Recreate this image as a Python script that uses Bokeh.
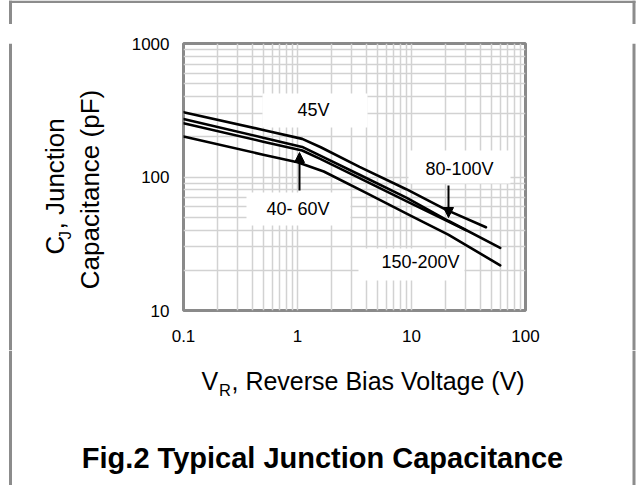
import math
from bokeh.plotting import figure
from bokeh.layouts import column, row
from bokeh.models import Range1d, FixedTicker, Label, BoxAnnotation, Arrow, NormalHead, Span
from bokeh.embed import file_html
from bokeh.resources import INLINE

# ---- data ----
vr_45 = [0.1, 0.5, 1.1, 1.6, 3.5, 9, 20, 45]
cj_45 = [306, 225, 193, 167, 119, 81, 57, 42]

vr_40_60 = [0.1, 0.5, 1.1, 1.6, 3.5, 9, 21, 60]
cj_40_60 = [272, 197, 168, 144, 104, 70, 47, 29.5]

vr_80_100 = [0.1, 0.5, 1.1, 1.6, 3.5, 9, 30]
cj_80_100 = [253, 184, 158, 136, 98, 66, 40]

vr_150_200 = [0.1, 0.5, 1.0, 1.7, 4, 10, 21, 60]
cj_150_200 = [201, 147, 129, 110, 76, 51, 37, 21.8]

x_ticks = [0.1, 1, 10, 100]
x_tick_labels = ["0.1", "1", "10", "100"]
y_ticks = [10, 100, 1000]
y_tick_labels = ["10", "100", "1000"]

FONT = "Liberation Sans"
BORDER = "#8c8c8c"

# ---- page geometry (pixels) ----
PAGE_W = 638
TOP_H = 24
MID_H = 326
BOT_H = 135
YLAB_W = 110
MAIN_W = 435
RIGHT_W = PAGE_W - YLAB_W - MAIN_W
FR_L, FR_T, FR_W, FR_H = 183, 43, 342, 267

X0, X1 = 0.1, 100
Y0, Y1 = 10, 1000


def dx(px):
    return 10 ** (math.log10(X0) + (px - FR_L) / FR_W * (math.log10(X1) - math.log10(X0)))


def dy(py):
    return 10 ** (math.log10(Y1) - (py - FR_T) / FR_H * (math.log10(Y1) - math.log10(Y0)))


def canvas(w, h, x0, y0):
    """A plain figure whose frame fills it and whose data coordinates are page pixels."""
    c = figure(width=w, height=h, frame_width=w, frame_height=h, title=None,
               x_range=Range1d(x0, x0 + w), y_range=Range1d(y0 + h, y0),
               min_border=0, min_border_left=0, min_border_right=0,
               min_border_top=0, min_border_bottom=0,
               x_axis_location=None, y_axis_location=None,
               output_backend="svg", toolbar_location=None)
    c.xgrid.visible = False
    c.ygrid.visible = False
    c.outline_line_color = None
    c.background_fill_color = "white"
    c.border_fill_color = "white"
    return c


def vborder(c, x):
    c.add_layout(Span(location=x, dimension="height", line_color=BORDER, line_width=3,
                      level="overlay"))


# ---- main chart ----
p = figure(
    width=MAIN_W, height=MID_H, title=None,
    frame_width=FR_W, frame_height=FR_H,
    x_axis_type="log", y_axis_type="log",
    x_range=Range1d(X0, X1), y_range=Range1d(Y0, Y1),
    output_backend="svg", toolbar_location=None,
    min_border_left=FR_L - YLAB_W, min_border_top=FR_T - TOP_H,
    min_border_right=MAIN_W - (FR_L - YLAB_W) - FR_W,
    min_border_bottom=MID_H - (FR_T - TOP_H) - FR_H,
)
p.background_fill_color = "white"
p.border_fill_color = "white"
p.outline_line_color = "#8a8a8a"
p.outline_line_width = 3

x_minor = [m * 10 ** e for e in (-1, 0, 1) for m in range(2, 10)]
y_minor = [m * 10 ** e for e in (1, 2) for m in range(2, 10)]
p.xaxis.ticker = FixedTicker(ticks=x_ticks, minor_ticks=x_minor)
p.yaxis.ticker = FixedTicker(ticks=y_ticks, minor_ticks=y_minor)
p.xaxis.major_label_overrides = dict(zip(x_ticks, x_tick_labels))
p.yaxis.major_label_overrides = dict(zip(y_ticks, y_tick_labels))

for ax in (p.xaxis, p.yaxis):
    ax.axis_line_color = None
    ax.major_tick_line_color = None
    ax.minor_tick_line_color = None
    ax.major_tick_out = 0
    ax.minor_tick_out = 0
    ax.major_label_text_font = FONT
    ax.major_label_text_font_size = "17px"
    ax.major_label_text_color = "black"
p.xaxis.major_label_standoff = 19
p.yaxis.major_label_standoff = 14

for g in (p.xgrid, p.ygrid):
    g.grid_line_color = "#d2d2d2"
    g.grid_line_width = 1.5
    g.minor_grid_line_color = "#d2d2d2"
    g.minor_grid_line_width = 1.5

boxes = [(262, 367, 93, 127), (408, 510, 150, 183), (246, 350, 192, 225), (358, 464, 248, 280)]
for l, r, t, b in boxes:
    p.add_layout(BoxAnnotation(left=dx(l), right=dx(r), top=dy(t), bottom=dy(b),
                               fill_color="white", fill_alpha=1.0, line_color=None,
                               level="underlay"))

for vx, cy in ((vr_45, cj_45), (vr_40_60, cj_40_60), (vr_80_100, cj_80_100), (vr_150_200, cj_150_200)):
    p.line(vx, cy, line_color="black", line_width=2.6, line_join="round", line_cap="round")

p.add_layout(Arrow(x_start=dx(299), y_start=dy(190), x_end=dx(299), y_end=dy(152),
                   line_color="black", line_width=2,
                   end=NormalHead(size=10, fill_color="black", line_color="black")))
p.add_layout(Arrow(x_start=dx(448), y_start=dy(185), x_end=dx(448), y_end=dy(217),
                   line_color="black", line_width=2,
                   end=NormalHead(size=10, fill_color="black", line_color="black")))

for txt, cx, cy in (("45V", 313, 109.5), ("80-100V", 459, 168), ("40- 60V", 297.5, 208), ("150-200V", 420, 261.5)):
    p.add_layout(Label(x=dx(cx), y=dy(cy), text=txt, text_font=FONT, text_font_size="18px",
                       text_align="center", text_baseline="middle", text_color="black"))

# ---- surrounding canvases (page-pixel coordinates) ----
top = canvas(PAGE_W, TOP_H, 0, 0)
ylab = canvas(YLAB_W, MID_H, 0, TOP_H)
right = canvas(RIGHT_W, MID_H, YLAB_W + MAIN_W, TOP_H)
bottom = canvas(PAGE_W, BOT_H, 0, TOP_H + MID_H)

# frame border of the whole picture (top, left, right; no bottom edge visible)
top.add_layout(BoxAnnotation(left=8.5, right=635, top=0, bottom=2.5, fill_color=BORDER,
                             fill_alpha=1.0, line_color=None, level="overlay"))
for c in (top, ylab, bottom):
    vborder(c, 10)
for c in (top, right, bottom):
    vborder(c, 633.5)

# y-axis title (two rotated lines, subscript J)
ang = math.pi / 2
ylab.add_layout(Label(x=54, y=235, text="C", text_font=FONT, text_font_size="26px", text_color="black",
                      angle=ang, text_align="left", text_baseline="middle"))
ylab.add_layout(Label(x=65, y=220, text="J", text_font=FONT, text_font_size="17px", text_color="black",
                      angle=ang, text_align="left", text_baseline="middle"))
ylab.add_layout(Label(x=54, y=210, text=", Junction", text_font=FONT, text_font_size="26px", text_color="black",
                      angle=ang, text_align="left", text_baseline="middle"))
ylab.add_layout(Label(x=89, y=170, text="Capacitance (pF)", text_font=FONT, text_font_size="26px",
                      text_color="black", angle=ang, text_align="center", text_baseline="middle"))

# x-axis title (subscript R)
bottom.add_layout(Label(x=201, y=380.5, text="V", text_font=FONT, text_font_size="25px", text_color="black",
                        text_align="left", text_baseline="middle"))
bottom.add_layout(Label(x=218.5, y=389, text="R", text_font=FONT, text_font_size="16.5px", text_color="black",
                        text_align="left", text_baseline="middle"))
bottom.add_layout(Label(x=231, y=380.5, text=", Reverse Bias Voltage (V)", text_font=FONT,
                        text_font_size="25px", text_color="black", text_align="left", text_baseline="middle"))

# caption
bottom.add_layout(Label(x=322, y=457, text="Fig.2 Typical Junction Capacitance", text_font=FONT,
                        text_font_size="29px", text_font_style="bold", text_color="black",
                        text_align="center", text_baseline="middle"))

page = column(top, row(ylab, p, right, spacing=0), bottom, spacing=0)

open("out.html", "w").write(file_html(page, INLINE))
